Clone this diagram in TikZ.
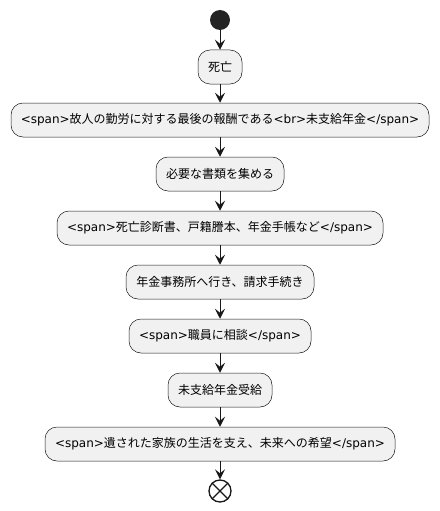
\documentclass[tikz,border=0pt]{standalone}
\usepackage{fontspec}
\setmainfont{DejaVu Sans}
\newfontfamily\jpfont{Noto Sans CJK JP}
\newcommand{\jp}[1]{{\jpfont #1}}
\usetikzlibrary{arrows.meta}
\definecolor{actfill}{HTML}{F1F1F1}
\definecolor{actline}{HTML}{181818}
\tikzset{
  act/.style={draw=actline, fill=actfill, line width=0.5pt, rounded corners=12pt, minimum height=34pt, inner xsep=0pt, font=\fontsize{12}{14}\selectfont},
  flow/.style={-{Stealth[length=10pt,width=10pt,inset=4pt]}, line width=1pt, color=actline}
}

\begin{document}
\begin{tikzpicture}[x=1pt,y=-1pt]
\useasboundingbox (0,0) rectangle (439,511);
\node[circle, fill=actline!95, minimum size=20pt, inner sep=0pt] (start) at (220,20) {};
\node[act, minimum width=44pt] (death) at (220,67) {\jp{死亡}};
\node[act, minimum width=418pt] (reward) at (220,120) {<span>\jp{故人の勤労に対する最後の報酬である}<br>\jp{未支給年金}</span>};
\node[act, minimum width=128pt] (papers) at (220,174) {\jp{必要な書類を集める}};
\node[act, minimum width=326pt] (docs) at (220,228) {<span>\jp{死亡診断書、戸籍謄本、年金手帳など}</span>};
\node[act, minimum width=188pt] (office) at (220,282) {\jp{年金事務所へ行き、請求手続き}};
\node[act, minimum width=182pt] (staff) at (220,336) {<span>\jp{職員に相談}</span>};
\node[act, minimum width=104pt] (receive) at (220,390) {\jp{未支給年金受給}};
\node[act, minimum width=350pt] (hope) at (220,444) {<span>\jp{遺された家族の生活を支え、未来への希望}</span>};
\node[circle, draw=actline, line width=1.3pt, fill=white, minimum size=22pt, inner sep=0pt] (stop) at (220,491) {};
\draw[actline, line width=1.3pt] (stop.north west) -- (stop.south east) (stop.north east) -- (stop.south west);

\draw[flow] (start) -- (death); \draw[flow] (death) -- (reward); \draw[flow] (reward) -- (papers);
\draw[flow] (papers) -- (docs); \draw[flow] (docs) -- (office); \draw[flow] (office) -- (staff);
\draw[flow] (staff) -- (receive); \draw[flow] (receive) -- (hope); \draw[flow] (hope) -- (stop);
\end{tikzpicture}
\end{document}
